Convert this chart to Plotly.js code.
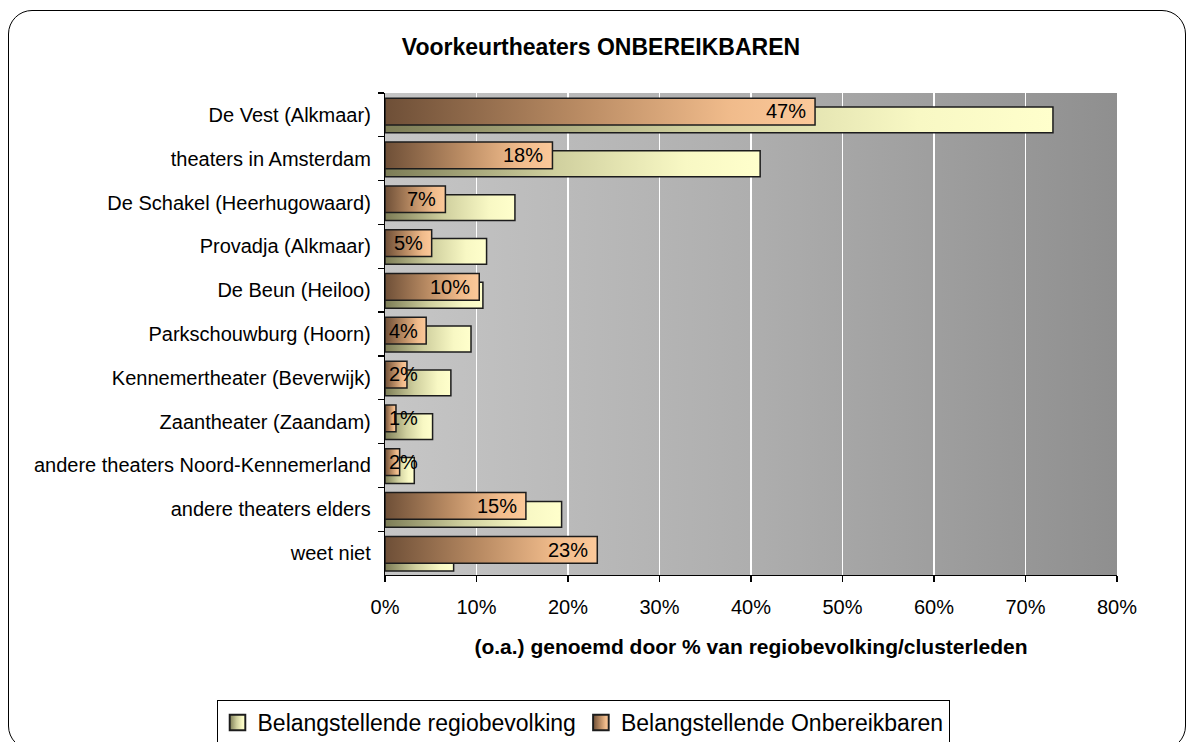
<!DOCTYPE html>
<html>
<head>
<meta charset="utf-8">
<script src="https://cdn.plot.ly/plotly-3.0.1.min.js"></script>
<style>
  html, body { margin: 0; padding: 0; background: #ffffff; }
  #wrap { position: relative; width: 1190px; height: 742px; overflow: hidden; }
  #chart { position: absolute; left: 0; top: 0; width: 1190px; height: 742px; }
  #frame { position: absolute; left: 8px; top: 10px; width: 1176px; height: 738px;
           border: 1.5px solid #000; border-radius: 24px; pointer-events: none; }
</style>
</head>
<body>
<div id="wrap">
  <div id="chart"></div>
  <div id="frame"></div>
</div>
<script>
// ---- data ----
const categories = [
  'De Vest (Alkmaar)',
  'theaters in Amsterdam',
  'De Schakel (Heerhugowaard)',
  'Provadja (Alkmaar)',
  'De Beun (Heiloo)',
  'Parkschouwburg (Hoorn)',
  'Kennemertheater (Beverwijk)',
  'Zaantheater (Zaandam)',
  'andere theaters Noord-Kennemerland',
  'andere theaters elders',
  'weet niet'
];
const seriesNames = ['Belangstellende regiobevolking', 'Belangstellende Onbereikbaren'];
const regiobevolking = [73, 41, 14.2, 11.1, 10.7, 9.4, 7.2, 5.2, 3.2, 19.3, 7.5];
const onbereikbaren = [47, 18.3, 6.6, 5.1, 10.3, 4.5, 2.4, 1.2, 1.6, 15.4, 23.2];
const onbereikbarenLabels = ['47%', '18%', '7%', '5%', '10%', '4%', '2%', '1%', '2%', '15%', '23%'];
const xTickVals = [0, 10, 20, 30, 40, 50, 60, 70, 80];
const xTickText = ['0%', '10%', '20%', '30%', '40%', '50%', '60%', '70%', '80%'];

const FONT = 'Liberation Sans, Arial, Helvetica, sans-serif';

const traces = [
  {
    type: 'bar', orientation: 'h', name: seriesNames[0],
    x: regiobevolking, y: categories,
    offset: -0.18, width: 0.59,
    marker: { color: '#e2e2b4', line: { color: '#1c1c1c', width: 1.5 } },
    hoverinfo: 'skip'
  },
  {
    type: 'bar', orientation: 'h', name: seriesNames[1],
    x: onbereikbaren, y: categories,
    offset: -0.38, width: 0.61,
    marker: { color: '#c89a70', line: { color: '#1c1c1c', width: 1.5 } },
    hoverinfo: 'skip'
  }
];

const annotations = onbereikbaren.map((v, i) => ({
  x: Math.max(v, 4.6), y: i, xref: 'x', yref: 'y',
  xanchor: 'right', yanchor: 'middle', xshift: -7, yshift: 3.5,
  text: onbereikbarenLabels[i], showarrow: false,
  font: { family: FONT, size: 20, color: '#000' }
}));

const layout = {
  width: 1190, height: 742,
  margin: { l: 385, r: 73, t: 93, b: 167, pad: 0 },
  paper_bgcolor: 'rgba(0,0,0,0)',
  plot_bgcolor: '#ababab',
  font: { family: FONT, size: 20, color: '#000' },
  showlegend: true,
  barmode: 'overlay',
  title: {
    text: '<b>Voorkeurtheaters ONBEREIKBAREN</b>',
    x: 601 / 1190, xanchor: 'center', xref: 'container',
    y: 1 - 47 / 742, yanchor: 'middle', yref: 'container',
    font: { family: FONT, size: 23, color: '#000' }
  },
  xaxis: {
    range: [0, 80], tickvals: xTickVals, ticktext: xTickText,
    showgrid: true, gridcolor: '#ffffff', gridwidth: 1.6,
    zeroline: false, showline: true, linecolor: '#000', linewidth: 1.2,
    ticks: 'outside', ticklen: 6, tickcolor: '#000', tickwidth: 1.2,
    ticklabelstandoff: 8,
    tickfont: { family: FONT, size: 20, color: '#000' },
    title: {
      text: '<b>(o.a.) genoemd door % van regiobevolking/clusterleden</b>',
      font: { family: FONT, size: 21, color: '#000' },
      standoff: 22
    },
    automargin: false, fixedrange: true
  },
  yaxis: {
    type: 'category', categoryorder: 'array', categoryarray: categories,
    range: [categories.length - 0.5, -0.5],
    showgrid: false, zeroline: false,
    showline: true, linecolor: '#000', linewidth: 1.2,
    ticks: 'outside', ticklen: 6, tickcolor: '#000', tickwidth: 1.2,
    tickson: 'boundaries', ticklabelstandoff: 9,
    tickfont: { family: FONT, size: 20, color: '#000' },
    automargin: false, fixedrange: true
  },
  legend: {
    orientation: 'h', xref: 'container', x: 583 / 1190, xanchor: 'center',
    yref: 'container', y: 1 - 700 / 742, yanchor: 'top',
    bordercolor: '#000', borderwidth: 1, bgcolor: '#ffffff',
    font: { family: FONT, size: 23, color: '#000' },
    traceorder: 'normal', itemclick: false, itemdoubleclick: false
  },
  annotations: annotations
};

function addGradients(gd) {
  const svg = gd.querySelector('svg.main-svg');
  if (!svg) return;
  const NS = 'http://www.w3.org/2000/svg';
  let defs = svg.querySelector('defs');
  if (!defs) { defs = document.createElementNS(NS, 'defs'); svg.insertBefore(defs, svg.firstChild); }
  function grad(id, stops) {
    const g = document.createElementNS(NS, 'linearGradient');
    g.setAttribute('id', id);
    g.setAttribute('x1', '0'); g.setAttribute('y1', '0');
    g.setAttribute('x2', '1'); g.setAttribute('y2', '0');
    stops.forEach(s => {
      const st = document.createElementNS(NS, 'stop');
      st.setAttribute('offset', s[0]);
      st.setAttribute('stop-color', s[1]);
      g.appendChild(st);
    });
    defs.appendChild(g);
  }
  grad('gradRegio', [[0, '#7c7c56'], [0.45, '#cfcf9e'], [0.8, '#f8f8c4'], [1, '#ffffcc']]);
  grad('gradOnb', [[0, '#6e4f37'], [0.45, '#b98b63'], [0.8, '#f0bb8b'], [1, '#fcc99a']]);
  grad('gradBg', [[0, '#c6c6c6'], [0.5, '#aeaeae'], [1, '#8f8f8f']]);
  const ids = ['gradRegio', 'gradOnb'];
  gd.querySelectorAll('.barlayer .trace').forEach((tr, i) => {
    tr.querySelectorAll('.point path').forEach(p => { p.style.fill = 'url(#' + ids[i] + ')'; });
  });
  gd.querySelectorAll('.legend .traces').forEach((tr, i) => {
    tr.querySelectorAll('.legendpoints path').forEach(p => {
      p.style.fill = 'url(#' + ids[i] + ')';
      const t = p.getAttribute('transform') || '';
      p.setAttribute('transform', (t + ' scale(1.3)').trim());
    });
  });
  const bg = gd.querySelector('.bglayer rect.bg');
  if (bg) bg.style.fill = 'url(#gradBg)';
}

Plotly.newPlot('chart', traces, layout, { staticPlot: true, displayModeBar: false })
  .then(gd => addGradients(gd));
</script>
</body>
</html>
